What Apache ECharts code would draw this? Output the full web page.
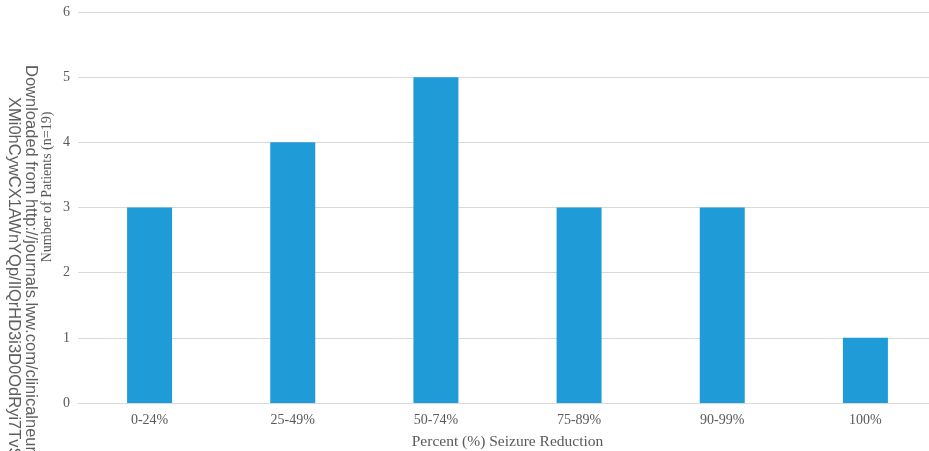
<!DOCTYPE html>
<html>
<head>
<meta charset="utf-8">
<script src="https://cdn.jsdelivr.net/npm/echarts@6/dist/echarts.min.js"></script>
<style>
  html, body { margin: 0; padding: 0; background: #fff; }
  #chart { width: 929px; height: 451px; }
</style>
</head>
<body>
<div id="chart"></div>
<script>
// 数据
var categories = ["0-24%", "25-49%", "50-74%", "75-89%", "90-99%", "100%"];
var patients = [3, 4, 5, 3, 3, 1];
var yTicks = [0, 1, 2, 3, 4, 5, 6];

var serif = "'Liberation Serif', 'Times New Roman', serif";
var labelColor = "#595959";

var chart = echarts.init(document.getElementById("chart"));
var option = {
  animation: false,
  grid: { left: 78, right: -8, top: 12, bottom: 48, outerBoundsMode: "none" },
  xAxis: {
    type: "category",
    data: categories,
    name: "Percent (%) Seizure Reduction",
    nameLocation: "middle",
    nameGap: 31,
    nameTextStyle: { fontFamily: serif, fontSize: 15.5, color: labelColor },
    axisTick: { show: false },
    axisLine: { lineStyle: { color: "#d9d9d9", width: 1 } },
    axisLabel: { fontFamily: serif, fontSize: 14, color: labelColor, margin: 10 }
  },
  yAxis: {
    type: "value",
    min: yTicks[0],
    max: yTicks[yTicks.length - 1],
    interval: 1,
    axisLine: { show: false },
    axisTick: { show: false },
    axisLabel: { fontFamily: serif, fontSize: 14, color: labelColor, margin: 8 },
    splitLine: { lineStyle: { color: "#d9d9d9", width: 1 } }
  },
  series: [{
    type: "bar",
    data: patients,
    barWidth: 45,
    itemStyle: { color: "#1f9cd8" }
  }],
  graphic: [
    {
      // y轴标题
      type: "text",
      x: 47, y: 187,
      rotation: Math.PI / 2,
      style: {
        text: "Number of Patients (n=19)",
        font: "14px " + serif,
        fill: labelColor,
        textAlign: "center",
        textVerticalAlign: "middle"
      }
    },
    {
      type: "text",
      x: 31, y: 65,
      rotation: -Math.PI / 2,
      style: {
        text: "Downloaded from http://journals.lww.com/clinicalneur",
        font: "16.5px 'Liberation Sans', Arial, sans-serif",
        fill: "#5e5e5e",
        textAlign: "left",
        textVerticalAlign: "middle"
      }
    },
    {
      type: "text",
      x: 14, y: 97,
      rotation: -Math.PI / 2,
      style: {
        text: "XMi0hCywCX1AWnYQp/IlQrHD3i3D0OdRyi7TvS",
        font: "16.5px 'Liberation Sans', Arial, sans-serif",
        fill: "#5e5e5e",
        textAlign: "left",
        textVerticalAlign: "middle"
      }
    }
  ]
};
chart.setOption(option);
</script>
</body>
</html>
